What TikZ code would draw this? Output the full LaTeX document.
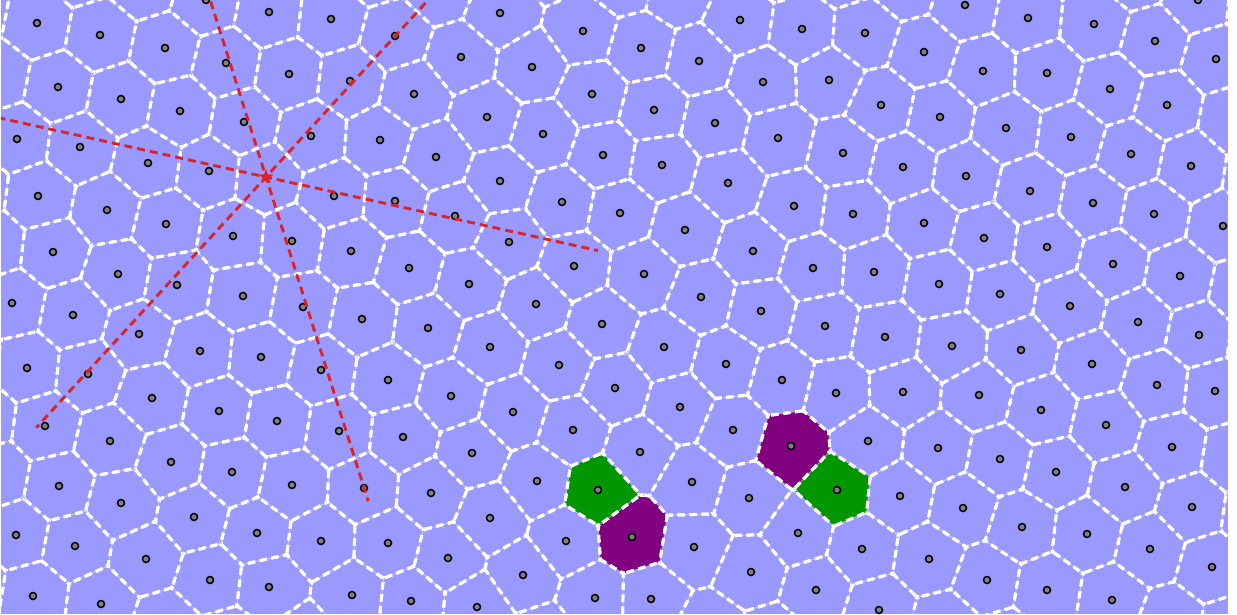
\documentclass[tikz,border=0pt]{standalone}
\definecolor{cellbg}{RGB}{153,153,255}
\definecolor{cellgreen}{RGB}{0,150,0}
\definecolor{cellpurple}{RGB}{128,0,128}
\definecolor{sitegray}{RGB}{128,128,128}
\definecolor{axisred}{RGB}{220,36,36}
\tikzset{
  cellthin/.style={line width=0.7pt, white, opacity=0.3},
  celldash/.style={line width=3pt, white, dash pattern=on 7.5pt off 4.5pt},
  sitemark/.style={draw=black, line width=1.5pt, fill=sitegray},
  axisdash/.style={line width=2.9pt, axisred, dash pattern=on 8pt off 5pt},
  starmark/.style={fill=axisred, draw=axisred, line width=0.6pt},
}
\def\vorsites{37/23,100/35,165/48,206/0,269/12,226/63,289/74,58/87,121/99,180/111,244/122,311/136,17/139,80/147,148/163,209/171,38/196,107/210,166/224,233/236,292/241,53/252,118/274,177/285,243/296,303/307,12/303,
331/19,395/36,500/13,583/31,461/57,532/67,350/81,414/94,487/117,592/94,543/134,380/140,436/157,603/155,500/181,562/202,620/213,334/196,395/201,455/216,509/242,351/251,409/268,469/284,574/266,536/304,
740/20,802/29,865/33,924/52,641/48,699/61,763/82,829/80,881/105,940/117,654/110,715/123,778/138,843/153,903/167,662/165,728/183,794/206,853/214,924/223,685/230,753/251,813/268,874/272,939/284,644/274,701/297,761/311,
965/5,1028/18,1094/24,1198/0,1155/41,1216/59,983/71,1047/73,1110/89,1167/105,1006/128,1071/137,1131/154,1191/166,966/176,1030/191,1093/203,1154/214,1223/226,984/238,1047/247,1113/264,1180/276,1000/294,1070/306,
73/315,139/334,27/368,88/374,200/351,261/357,321/370,45/426,152/398,219/411,277/421,110/441,171/462,232/472,292/485,59/486,121/503,194/517,257/533,321/541,16/535,75/546,146/559,210/580,269/587,33/596,101/604,
362/319,428/328,602/324,388/380,490/347,559/365,451/396,615/388,513/412,339/431,403/437,573/430,472/453,537/481,364/488,431/493,598/490,490/518,388/543,566/541,632/537,448/558,523/575,352/595,411/601,477/607,595/598,
825/326,885/337,664/347,726/364,782/380,836/393,903/392,680/407,733/430,791/446,868/441,938/448,640/452,692/482,749/498,837/490,900/496,694/547,798/533,862/549,929/559,751/572,816/590,651/599,879/610,
1138/322,1199/335,952/346,1021/350,1092/364,1157/385,1215/391,979/395,1041/410,1106/425,1172/447,1000/459,1056/472,1125/487,1192/507,963/508,1022/527,1087/534,1150/549,1212/567,987/580,1047/590,1112/600}
\def\vorstar{266/177}
\def\vorghosts{17/-42,80/-30,144/-17,186/-62,250/-51,312/-43,375/-31,440/-12,480/-52,553/-37,623/-20,678/-10,720/-48,783/-34,845/-28,906/-16,945/-60,1008/-47,1072/-38,1136/-26,1178/-65,1241/-53,1259/6,
1234/118,1258/176,1243/289,1260/343,1235/457,1255/516,1232/630,
55/659,166/626,228/642,305/640,370/657,432/663,545/640,611/657,710/630,772/640,836/659,945/626,1006/644,1068/654,1132/665,1170/622,
-26/11,-4/75,-25/188,-8/245,-33/356,-17/418,-5/474,-28/586}
\edef\vorall{\vorsites,\vorstar,\vorghosts}
\def\vorcolor{598/490/cellgreen,632/537/cellpurple,791/446/cellpurple,837/490/cellgreen}
\newcommand\vorfind[2]{%
  \gdef\vornbrs{}%
  \foreach \qx/\qy in \vorall {%
    \ifnum\numexpr((\qx)-(#1))*((\qx)-(#1))+((\qy)-(#2))*((\qy)-(#2))\relax<10000
      \ifnum\numexpr((\qx)-(#1))*((\qx)-(#1))+((\qy)-(#2))*((\qy)-(#2))\relax>0
        \ifx\vornbrs\empty\xdef\vornbrs{\qx/\qy}\else\xdef\vornbrs{\vornbrs,\qx/\qy}\fi
      \fi
    \fi}}
\newcommand\vorclip[5]{%
  \pgfmathsetmacro\vdx{(#3)-(#1)}%
  \pgfmathsetmacro\vdy{(#4)-(#2)}%
  \pgfmathsetmacro\vln{veclen(\vdx,\vdy)}%
  \pgfmathsetmacro\vux{\vdx/\vln}%
  \pgfmathsetmacro\vuy{\vdy/\vln}%
  \pgfmathsetmacro\vmx{((#1)+(#3))/2+#5*\vux}%
  \pgfmathsetmacro\vmy{((#2)+(#4))/2+#5*\vuy}%
  \clip ({\vmx-200*\vuy},{\vmy+200*\vux}) -- ({\vmx+200*\vuy},{\vmy-200*\vux})
    -- ({\vmx+200*\vuy-400*\vux},{\vmy-200*\vux-400*\vuy})
    -- ({\vmx-200*\vuy-400*\vux},{\vmy+200*\vux-400*\vuy}) -- cycle;}
\newcommand\voredge[4]{%
  \pgfmathsetmacro\vdx{(#3)-(#1)}%
  \pgfmathsetmacro\vdy{(#4)-(#2)}%
  \pgfmathsetmacro\vln{veclen(\vdx,\vdy)}%
  \pgfmathsetmacro\vnx{-100*\vdy/\vln}%
  \pgfmathsetmacro\vny{100*\vdx/\vln}%
  \pgfmathsetmacro\vmx{((#1)+(#3))/2}%
  \pgfmathsetmacro\vmy{((#2)+(#4))/2}%
  \draw[cellthin] ({\vmx-\vnx},{\vmy-\vny}) -- ({\vmx+\vnx},{\vmy+\vny});
  \draw[celldash] ({\vmx-\vnx},{\vmy-\vny}) -- ({\vmx+\vnx},{\vmy+\vny});}
\newcommand\vorpair[4]{%
  \ifnum\numexpr(#3)-(#1)\relax>0 \def\vornext{\voredge{#1}{#2}{#3}{#4}}%
  \else\ifnum\numexpr(#3)-(#1)\relax<0 \def\vornext{\voredge{#3}{#4}{#1}{#2}}%
  \else\ifnum\numexpr(#4)-(#2)\relax>0 \def\vornext{\voredge{#1}{#2}{#3}{#4}}%
  \else\def\vornext{\voredge{#3}{#4}{#1}{#2}}\fi\fi\fi
  \vornext}
\newcommand\vorcell[2]{%
  \vorfind{#1}{#2}%
  \begin{scope}
    \foreach \qx/\qy in \vornbrs {\vorclip{#1}{#2}{\qx}{\qy}{1.7}}
    \foreach \qx/\qy in \vornbrs {\vorpair{#1}{#2}{\qx}{\qy}}
  \end{scope}}
\begin{document}
\begin{tikzpicture}[x=1pt, y=-1pt]
  \useasboundingbox (0,0) rectangle (1237,614);
  \fill[white] (0,0) rectangle (1237,614);
  \fill[cellbg] (1,0) rectangle (1228,614);
  \begin{scope}
    \clip (1,0) rectangle (1228,614);
    \foreach \px/\py/\pc in \vorcolor {%
      \vorfind{\px}{\py}%
      \begin{scope}
        \foreach \qx/\qy in \vornbrs {\vorclip{\px}{\py}{\qx}{\qy}{0}}
        \fill[\pc] (0,0) rectangle (1237,614);
      \end{scope}}
    \foreach \px/\py in \vorall {\vorcell{\px}{\py}}
    \foreach \px/\py in \vorsites {\draw[sitemark] (\px,\py) circle (3.5pt);}
    \foreach \a in {12.5,72.5,132.5}
      \draw[axisdash] ({266-340*cos(\a)},{177-340*sin(\a)}) -- ({266+340*cos(\a)},{177+340*sin(\a)});
    \fill[starmark] (266,177) +(90:7pt) -- +(126:2.8pt) -- +(162:7pt) -- +(198:2.8pt)
      -- +(234:7pt) -- +(270:2.8pt) -- +(306:7pt) -- +(342:2.8pt) -- +(18:7pt)
      -- +(54:2.8pt) -- cycle;
  \end{scope}
\end{tikzpicture}
\end{document}
